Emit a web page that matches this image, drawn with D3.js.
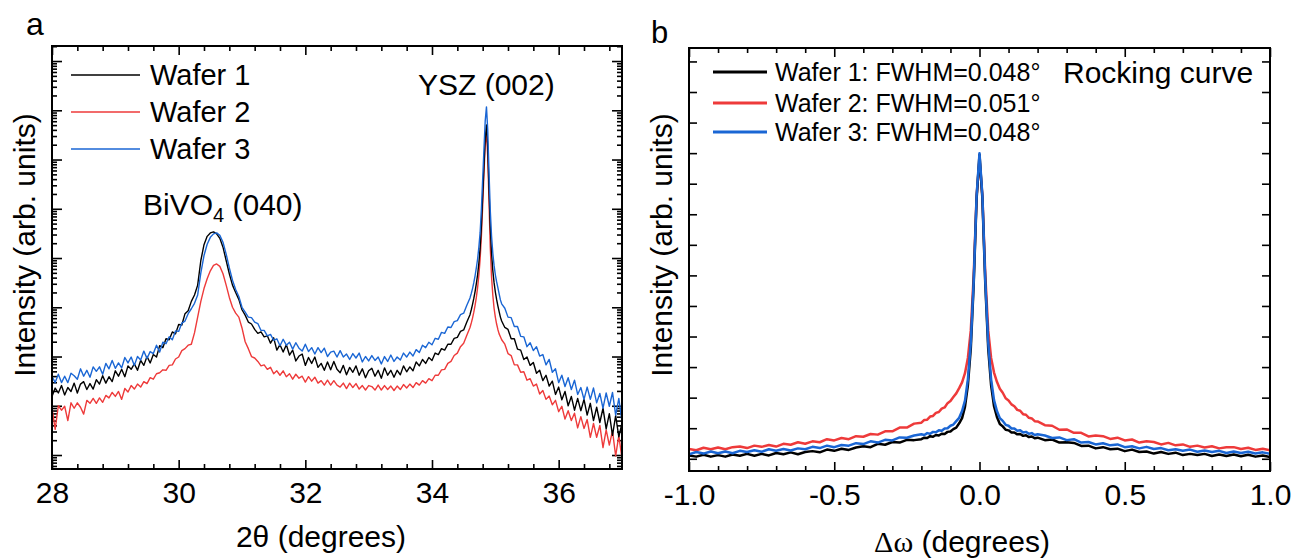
<!DOCTYPE html>
<html><head><meta charset="utf-8">
<script src="https://cdn.jsdelivr.net/npm/d3@7"></script>
<style>
html,body{margin:0;padding:0;background:#fff;}
svg{display:block;font-family:"Liberation Sans",Arial,sans-serif;}
</style></head><body>
<svg id="chart" width="1293" height="560"></svg>
<script>
// ---------------- DATA: panel a (XRD 2theta scan, log10 of intensity) ----------------
const twoTheta = [
28.00,28.05,28.10,28.15,28.20,28.25,28.30,28.35,28.40,28.45,28.50,28.55,28.60,28.65,28.70,28.75,28.80,28.85,28.90,28.95,29.00,29.05,29.10,29.15,29.20,29.25,29.30,29.35,29.40,29.45,29.50,29.55,29.60,29.65,29.70,29.75,29.80,29.85,29.90,29.95,30.00,30.05,30.10,30.15,
30.20,30.25,30.30,30.35,30.40,30.45,30.50,30.55,30.60,30.65,30.70,30.75,30.80,30.85,30.90,30.95,31.00,31.05,31.10,31.15,31.20,
31.25,31.30,31.35,31.40,31.45,31.50,31.55,31.60,31.65,31.70,31.75,31.80,31.85,31.90,31.95,32.00,32.05,32.10,32.15,32.20,32.25,32.30,32.35,32.40,32.45,32.50,32.55,32.60,32.65,32.70,32.75,32.80,32.85,32.90,32.95,33.00,33.05,33.10,33.15,33.20,33.25,33.30,33.35,33.40,33.45,33.50,33.55,33.60,33.65,33.70,33.75,33.80,33.85,33.90,33.95,34.00,34.05,34.10,34.15,34.20,34.25,34.30,34.35,34.40,34.45,34.50,34.55,34.60,
34.62,34.64,34.66,34.68,34.70,34.72,34.74,34.76,34.78,34.80,34.82,34.84,34.86,34.88,34.90,34.92,34.94,34.96,34.98,35.00,35.02,35.04,35.06,35.08,35.10,
35.15,35.20,35.25,35.30,35.35,35.40,35.45,35.50,35.55,35.60,35.65,35.70,35.75,35.80,35.85,35.90,35.95,36.00,36.05,36.10,36.15,36.20,36.25,36.30,36.35,36.40,36.45,36.50,36.55,36.60,36.65,36.70,36.75,36.80,36.85,36.90,36.95,37.00];

const wafer1LogI = [
1.19,1.36,1.26,1.41,1.22,1.37,1.29,1.46,1.26,1.44,1.49,1.33,1.45,1.34,1.53,1.44,1.61,1.46,1.59,1.49,1.71,1.60,1.74,1.59,1.81,1.74,1.85,1.72,1.92,1.82,2.00,1.87,2.04,1.99,2.22,2.18,2.36,2.34,2.50,2.46,2.65,2.64,2.87,2.93,
3.12,3.25,3.45,3.95,4.27,4.44,4.51,4.53,4.49,4.40,4.22,3.95,3.68,3.45,3.30,3.16,2.95,2.84,2.70,2.66,2.55,
2.47,2.50,2.40,2.42,2.27,2.38,2.13,2.24,2.09,2.24,2.03,2.13,1.91,2.01,2.05,1.82,1.98,1.86,1.99,1.78,1.86,1.72,1.89,1.73,1.90,1.74,1.67,1.82,1.63,1.78,1.68,1.81,1.62,1.75,1.57,1.71,1.76,1.60,1.72,1.56,1.77,1.62,1.72,1.58,1.72,1.63,1.81,1.69,1.79,1.71,1.89,1.81,1.94,1.86,1.98,1.92,2.07,2.04,2.16,2.13,2.25,2.25,2.37,2.39,2.51,2.54,2.70,2.85,
2.95,3.06,3.18,3.32,3.48,3.66,3.90,4.20,4.66,5.25,5.85,6.42,6.70,6.25,5.40,4.63,4.10,3.75,3.50,3.31,3.16,3.03,2.91,2.80,2.72,
2.59,2.55,2.36,2.36,2.15,2.13,1.94,1.99,1.82,1.88,1.66,1.72,1.51,1.62,1.40,1.50,1.23,1.38,1.12,1.29,1.00,1.19,0.91,1.15,0.90,1.13,0.81,1.05,0.70,0.97,0.66,0.95,0.53,0.84,0.40,0.80,0.37,0.65];

const wafer2LogI = [
0.96,0.52,1.00,0.91,0.99,0.70,1.06,0.95,1.06,0.97,0.83,1.11,1.05,1.15,1.05,1.16,1.07,1.21,1.16,1.27,1.19,1.29,1.13,1.35,1.28,1.41,1.34,1.44,1.38,1.49,1.45,1.57,1.54,1.65,1.67,1.73,1.72,1.82,1.83,1.95,1.99,2.12,2.16,2.23,
2.25,2.48,2.80,3.12,3.38,3.58,3.74,3.85,3.88,3.83,3.68,3.45,3.20,3.00,2.88,2.80,2.58,2.30,2.16,2.00,1.97,
1.90,1.81,1.83,1.74,1.78,1.65,1.71,1.62,1.71,1.59,1.65,1.54,1.64,1.56,1.60,1.48,1.59,1.50,1.58,1.46,1.51,1.42,1.52,1.42,1.51,1.42,1.38,1.46,1.35,1.46,1.37,1.45,1.34,1.41,1.32,1.41,1.39,1.32,1.42,1.32,1.41,1.33,1.40,1.31,1.40,1.33,1.43,1.36,1.44,1.37,1.47,1.42,1.51,1.46,1.55,1.51,1.62,1.62,1.73,1.74,1.86,1.90,2.02,2.07,2.20,2.27,2.43,2.59,
2.68,2.78,2.90,3.04,3.20,3.40,3.65,3.98,4.45,5.05,5.70,6.30,6.56,6.05,5.15,4.22,3.62,3.25,2.98,2.80,2.66,2.55,2.46,2.40,2.34,
2.25,2.06,2.02,1.83,1.83,1.68,1.69,1.52,1.55,1.40,1.44,1.24,1.31,1.13,1.20,1.02,1.11,0.88,0.99,0.73,0.90,0.70,0.85,0.55,0.78,0.54,0.72,0.36,0.64,0.36,0.60,0.15,0.51,0.20,0.49,-0.02,0.40,-0.08];

const wafer3LogI = [
1.60,1.47,1.64,1.47,1.60,1.47,1.66,1.61,1.54,1.75,1.60,1.72,1.58,1.79,1.70,1.79,1.64,1.86,1.75,1.92,1.76,1.87,1.77,1.98,1.87,1.99,1.82,2.00,1.93,2.11,1.96,2.10,2.06,2.23,2.09,2.29,2.26,2.40,2.34,2.52,2.51,2.68,2.72,2.87,
2.97,3.08,3.25,3.70,4.05,4.28,4.42,4.49,4.51,4.46,4.32,4.08,3.80,3.55,3.36,3.22,3.00,2.90,2.80,2.79,2.70,
2.67,2.53,2.53,2.42,2.45,2.33,2.36,2.22,2.35,2.23,2.29,2.15,2.28,2.17,2.11,2.25,2.10,2.18,2.05,2.18,2.08,2.17,2.00,2.09,2.11,1.99,2.12,1.99,2.05,1.94,2.06,1.97,2.07,1.89,2.00,1.91,2.02,1.92,1.99,1.85,2.00,1.90,2.03,1.90,1.99,1.93,2.07,1.99,2.09,2.01,2.14,2.08,2.23,2.18,2.29,2.24,2.37,2.35,2.49,2.47,2.60,2.59,2.71,2.73,2.85,2.88,3.04,3.19,
3.28,3.38,3.50,3.64,3.80,3.98,4.22,4.52,5.00,5.60,6.20,6.78,7.07,6.60,5.75,4.97,4.45,4.10,3.85,3.66,3.52,3.40,3.27,3.15,3.07,
2.98,2.80,2.79,2.61,2.61,2.41,2.40,2.20,2.28,2.12,2.20,2.01,2.04,1.83,1.94,1.68,1.75,1.47,1.62,1.39,1.57,1.33,1.52,1.23,1.37,1.13,1.38,1.13,1.36,1.06,1.25,0.95,1.26,0.99,1.27,0.81,1.15,0.67];

const twoThetaRange = [28, 37];
const intensityRangeA = [0.52, 2.02e8];
const twoThetaMajorTicks = [28, 30, 32, 34, 36];

// ---------------- DATA: panel b (rocking curves, normalised intensity) ----------------
const deltaOmega = [
-1.000,-0.975,-0.950,-0.925,-0.900,-0.875,-0.850,-0.825,-0.800,-0.775,-0.750,-0.725,-0.700,-0.675,-0.650,-0.625,-0.600,-0.575,-0.550,-0.525,-0.500,-0.475,-0.450,-0.425,-0.400,-0.375,-0.350,-0.325,-0.300,-0.275,-0.250,-0.225,
-0.20,-0.19,-0.18,-0.17,-0.16,-0.15,-0.14,-0.13,-0.12,-0.11,-0.10,-0.09,-0.08,-0.07,-0.06,-0.05,-0.04,-0.03,-0.02,-0.01,
0.00,
0.01,0.02,0.03,0.04,0.05,0.06,0.07,0.08,0.09,0.10,0.11,0.12,0.13,0.14,0.15,0.16,0.17,0.18,0.19,0.20,
0.225,0.250,0.275,0.300,0.325,0.350,0.375,0.400,0.425,0.450,0.475,0.500,0.525,0.550,0.575,0.600,0.625,0.650,0.675,0.700,0.725,0.750,0.775,0.800,0.825,0.850,0.875,0.900,0.925,0.950,0.975,1.000];

const rc1 = [
0.011,0.007,0.013,0.007,0.012,0.007,0.014,0.010,0.016,0.010,0.016,0.011,0.019,0.015,0.021,0.015,0.022,0.025,0.021,0.030,0.026,0.033,0.029,0.037,0.041,0.038,0.049,0.046,0.055,0.053,0.062,0.061,
0.064,0.069,0.068,0.074,0.072,0.078,0.076,0.082,0.081,0.088,0.089,0.097,0.102,0.116,0.133,0.170,0.240,0.360,0.570,0.850,
0.995,
0.850,0.570,0.360,0.240,0.172,0.137,0.114,0.106,0.095,0.093,0.086,0.086,0.080,0.081,0.075,0.077,0.071,0.073,0.067,0.069,
0.061,0.063,0.053,0.054,0.052,0.042,0.043,0.034,0.038,0.031,0.033,0.025,0.030,0.022,0.024,0.017,0.022,0.016,0.020,0.012,0.016,0.012,0.016,0.009,0.014,0.009,0.014,0.008,0.013,0.007,0.011,0.006];

const rc2 = [
0.032,0.028,0.036,0.031,0.037,0.031,0.038,0.040,0.035,0.043,0.039,0.045,0.040,0.049,0.046,0.054,0.049,0.057,0.054,0.064,0.060,0.068,0.064,0.074,0.072,0.081,0.079,0.090,0.090,0.102,0.102,0.115,
0.118,0.127,0.128,0.138,0.140,0.150,0.153,0.164,0.168,0.182,0.189,0.202,0.214,0.231,0.250,0.280,0.330,0.420,0.600,0.860,
0.980,
0.860,0.600,0.420,0.330,0.282,0.252,0.229,0.216,0.198,0.191,0.178,0.172,0.160,0.157,0.146,0.144,0.134,0.132,0.123,0.122,
0.110,0.108,0.095,0.096,0.085,0.085,0.073,0.076,0.074,0.065,0.069,0.060,0.063,0.053,0.057,0.055,0.047,0.052,0.044,0.047,0.039,0.043,0.037,0.041,0.034,0.038,0.038,0.032,0.036,0.029,0.033,0.028];

const rc3 = [
0.015,0.022,0.017,0.024,0.018,0.024,0.018,0.026,0.022,0.028,0.023,0.031,0.026,0.032,0.027,0.034,0.031,0.039,0.035,0.043,0.038,0.045,0.043,0.051,0.048,0.057,0.053,0.062,0.060,0.070,0.069,0.076,
0.080,0.078,0.084,0.082,0.088,0.087,0.093,0.092,0.099,0.100,0.108,0.112,0.123,0.134,0.156,0.190,0.260,0.380,0.580,0.860,
1.000,
0.860,0.580,0.380,0.260,0.192,0.156,0.133,0.124,0.111,0.108,0.099,0.099,0.092,0.093,0.086,0.088,0.082,0.084,0.078,0.080,
0.076,0.068,0.070,0.061,0.064,0.053,0.055,0.047,0.051,0.044,0.047,0.038,0.041,0.034,0.039,0.032,0.035,0.028,0.031,0.026,0.030,0.023,0.027,0.022,0.026,0.019,0.024,0.019,0.023,0.017,0.021,0.016];

const omegaRange = [-1, 1];
const intensityRangeB = [-0.04, 1.344];
const omegaMajorTicks = [-1, -0.5, 0, 0.5, 1];

const waferNames = ["Wafer 1", "Wafer 2", "Wafer 3"];
const fwhmLabels = ["Wafer 1: FWHM=0.048°", "Wafer 2: FWHM=0.051°", "Wafer 3: FWHM=0.048°"];
const colors = ["#000000", "#ee3a3a", "#1a66d4"];

// ---------------- DRAWING ----------------
const svg = d3.select("#chart");
svg.append("rect").attr("width",1293).attr("height",560).attr("fill","#fff");

function styleAxis(g){ g.select(".domain").remove(); g.selectAll("line").attr("stroke","#000").attr("stroke-width",1.6); g.selectAll("text").attr("fill","#000"); }

// ===== Panel a =====
const A = {l:52, r:622, t:46, b:469};
const xA = d3.scaleLinear().domain(twoThetaRange).range([A.l, A.r]);
const yA = d3.scaleLog().domain(intensityRangeA).range([A.b, A.t]);

const xMinorA = d3.range(0, 23).map(i => +(28 + i*0.4).toFixed(2)).filter(v => !twoThetaMajorTicks.includes(v) && v <= 37);
const yAllA = yA.ticks(100);
const yMajorA = yAllA.filter(v => Math.abs(Math.log10(v) - Math.round(Math.log10(v))) < 1e-9);
const yMinorA = yAllA.filter(v => !yMajorA.includes(v));

const gA = svg.append("g");
svg.append("clipPath").attr("id","clipA").append("rect").attr("x",A.l).attr("y",A.t).attr("width",A.r-A.l).attr("height",A.b-A.t);

// bottom axis (labels)
gA.append("g").attr("transform",`translate(0,${A.b})`).call(d3.axisBottom(xA).tickValues(twoThetaMajorTicks).tickSize(-9).tickPadding(13).tickFormat(d3.format("d")))
  .call(styleAxis).call(g=>g.selectAll("text").attr("font-size",30).attr("font-family","Liberation Sans, Arial, sans-serif"));
gA.append("g").attr("transform",`translate(0,${A.b})`).call(d3.axisBottom(xA).tickValues(xMinorA).tickSize(-5).tickFormat("")).call(styleAxis);
// top axis
gA.append("g").attr("transform",`translate(0,${A.t})`).call(d3.axisTop(xA).tickValues(twoThetaMajorTicks).tickSize(-9).tickFormat("")).call(styleAxis);
gA.append("g").attr("transform",`translate(0,${A.t})`).call(d3.axisTop(xA).tickValues(xMinorA).tickSize(-5).tickFormat("")).call(styleAxis);
// left / right log axes
gA.append("g").attr("transform",`translate(${A.l},0)`).call(d3.axisLeft(yA).tickValues(yMajorA).tickSize(-10).tickFormat("")).call(styleAxis);
gA.append("g").attr("transform",`translate(${A.l},0)`).call(d3.axisLeft(yA).tickValues(yMinorA).tickSize(-5).tickFormat("")).call(styleAxis);
gA.append("g").attr("transform",`translate(${A.r},0)`).call(d3.axisRight(yA).tickValues(yMajorA).tickSize(-10).tickFormat("")).call(styleAxis);
gA.append("g").attr("transform",`translate(${A.r},0)`).call(d3.axisRight(yA).tickValues(yMinorA).tickSize(-5).tickFormat("")).call(styleAxis);

const lineA = d3.line().x(d => xA(d[0])).y(d => yA(Math.pow(10, d[1])));
const seriesA = [wafer1LogI, wafer2LogI, wafer3LogI];
const drawOrder = [1, 0, 2];
const linesA = gA.append("g").attr("clip-path","url(#clipA)");
drawOrder.forEach(i => {
  linesA.append("path").datum(twoTheta.map((x, k) => [x, seriesA[i][k]]))
    .attr("d", lineA).attr("fill","none").attr("stroke",colors[i]).attr("stroke-width",1.4).attr("stroke-linejoin","round");
});
gA.append("rect").attr("x",A.l).attr("y",A.t).attr("width",A.r-A.l).attr("height",A.b-A.t).attr("fill","none").attr("stroke","#000").attr("stroke-width",2);

// legend a
const legA = [75, 112, 149];
waferNames.forEach((n, i) => {
  gA.append("line").attr("x1",71).attr("x2",140).attr("y1",legA[i]).attr("y2",legA[i]).attr("stroke",colors[i]).attr("stroke-width",1.6);
  gA.append("text").attr("x",150).attr("y",legA[i]+10).attr("font-size",29).text(n);
});
// peak labels
gA.append("text").attr("x",418).attr("y",95).attr("font-size",30).text("YSZ (002)");
const biv = gA.append("text").attr("x",143).attr("y",215).attr("font-size",30);
biv.append("tspan").text("BiVO");
biv.append("tspan").attr("font-size",20).attr("dy",7).text("4");
biv.append("tspan").attr("dy",-7).text(" (040)");
// axis titles
gA.append("text").attr("x",321).attr("y",547).attr("text-anchor","middle").attr("font-size",30)
  .text("2θ (degrees)");
gA.append("text").attr("transform","translate(35,245) rotate(-90)").attr("text-anchor","middle").attr("font-size",30).text("Intensity (arb. units)");
svg.append("text").attr("x",26).attr("y",35).attr("font-size",32).text("a");

// ===== Panel b =====
const B = {l:689, r:1270, t:48, b:471};
const xB = d3.scaleLinear().domain(omegaRange).range([B.l, B.r]);
const yB = d3.scaleLinear().domain(intensityRangeB).range([B.b, B.t]);
const xMinorB = d3.range(-10, 11).map(i => i/10).filter(v => !omegaMajorTicks.some(m => Math.abs(m - v) < 1e-9));
const yTicksB = d3.range(0, 14).map(i => i/10);

const gB = svg.append("g");
svg.append("clipPath").attr("id","clipB").append("rect").attr("x",B.l).attr("y",B.t).attr("width",B.r-B.l).attr("height",B.b-B.t);

gB.append("g").attr("transform",`translate(0,${B.b})`).call(d3.axisBottom(xB).tickValues(omegaMajorTicks).tickSize(-9).tickPadding(13).tickFormat(d => d.toFixed(1)))
  .call(styleAxis).call(g=>g.selectAll("text").attr("font-size",30).attr("font-family","Liberation Sans, Arial, sans-serif"));
gB.append("g").attr("transform",`translate(0,${B.b})`).call(d3.axisBottom(xB).tickValues(xMinorB).tickSize(-5).tickFormat("")).call(styleAxis);
gB.append("g").attr("transform",`translate(0,${B.t})`).call(d3.axisTop(xB).tickValues(omegaMajorTicks).tickSize(-9).tickFormat("")).call(styleAxis);
gB.append("g").attr("transform",`translate(0,${B.t})`).call(d3.axisTop(xB).tickValues(xMinorB).tickSize(-5).tickFormat("")).call(styleAxis);
gB.append("g").attr("transform",`translate(${B.l},0)`).call(d3.axisLeft(yB).tickValues(yTicksB).tickSize(-8).tickFormat("")).call(styleAxis);
gB.append("g").attr("transform",`translate(${B.r},0)`).call(d3.axisRight(yB).tickValues(yTicksB).tickSize(-8).tickFormat("")).call(styleAxis);

const lineB = d3.line().x(d => xB(d[0])).y(d => yB(d[1]));
const seriesB = [rc1, rc2, rc3];
const linesB = gB.append("g").attr("clip-path","url(#clipB)");
drawOrder.forEach(i => {
  linesB.append("path").datum(deltaOmega.map((x, k) => [x, seriesB[i][k]]))
    .attr("d", lineB).attr("fill","none").attr("stroke",colors[i]).attr("stroke-width",2.5).attr("stroke-linejoin","round");
});
gB.append("rect").attr("x",B.l).attr("y",B.t).attr("width",B.r-B.l).attr("height",B.b-B.t).attr("fill","none").attr("stroke","#000").attr("stroke-width",2);

const legB = [72, 103, 132];
fwhmLabels.forEach((n, i) => {
  gB.append("line").attr("x1",713).attr("x2",767).attr("y1",legB[i]).attr("y2",legB[i]).attr("stroke",colors[i]).attr("stroke-width",3);
  gB.append("text").attr("x",775).attr("y",legB[i]+9).attr("font-size",25).text(n);
});
gB.append("text").attr("x",1063).attr("y",83).attr("font-size",30).text("Rocking curve");
const xt = gB.append("text").attr("x",962).attr("y",552).attr("text-anchor","middle").attr("font-size",30);
xt.append("tspan").attr("font-family","Liberation Serif, Times New Roman, serif").text("Δω");
xt.append("tspan").text(" (degrees)");
gB.append("text").attr("transform","translate(672,245) rotate(-90)").attr("text-anchor","middle").attr("font-size",30).text("Intensity (arb. units)");
svg.append("text").attr("x",651).attr("y",43).attr("font-size",31).text("b");
</script>
</body></html>
